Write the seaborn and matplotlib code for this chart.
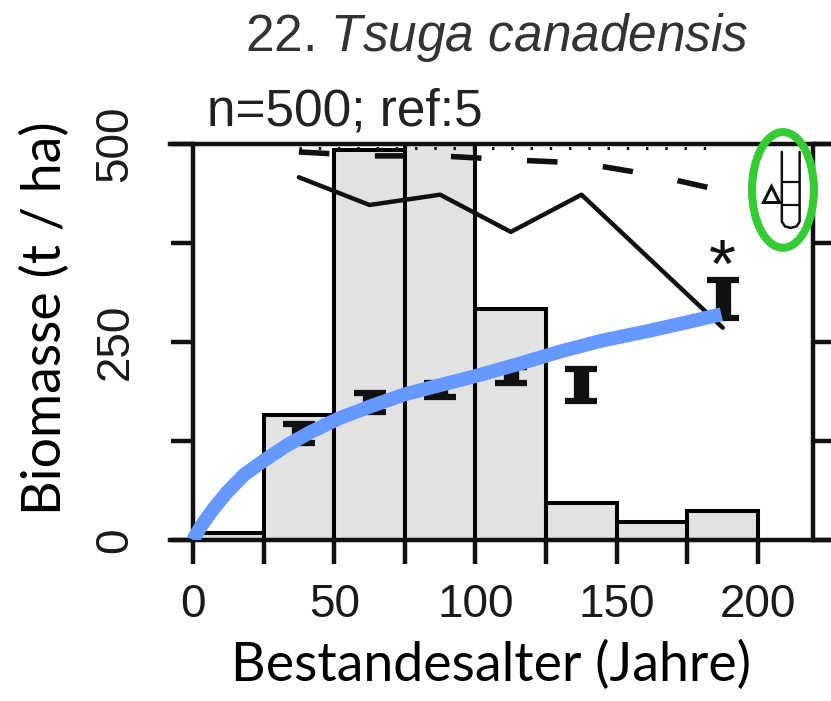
import numpy as np
import matplotlib
matplotlib.use("Agg")
import matplotlib.pyplot as plt
import seaborn as sns
from matplotlib.patches import Ellipse

# Histogram of stand ages (bins of 25 years), heights in t/ha scale
bin_edges = [0, 25, 50, 75, 100, 125, 150, 175, 200]
bin_mids = [12.5, 37.5, 62.5, 87.5, 112.5, 137.5, 162.5, 187.5]
bin_heights = [9, 158, 492, 540, 292, 47, 23, 36]

# Solid and dashed model lines
solid_x = [37.5, 62.5, 87.5, 112.5, 137.5, 187.5]
solid_y = [458, 423, 436, 389, 436, 268]
dash_x = [37.5, 62.5, 87.5, 112.5, 137.5, 162.5, 187.5]
dash_y = [490, 485, 485, 480, 476, 461, 441]
dot_x = [37.5, 185]
dot_y = [495, 495]

# Observed biomass (mean +/- error)
obs_x = [37.5, 62.5, 87.5, 112.5, 137.5, 187.5]
obs_y = [135, 174, 189, 208, 196, 304]
obs_err = [12, 12, 9, 10, 20, 24]

# Fitted curve (blue)
fit_x = [0, 3, 7, 12, 18, 25, 33, 42, 52, 63, 75, 88, 100, 115, 130, 145, 160, 175, 187]
fit_y = [0, 18, 38, 60, 82, 100, 119, 137, 154, 169, 184, 196, 207, 222, 238, 252, 263, 275, 285]

# Symbols inside the green ellipse
tri_x, tri_y = [204.6], [437]
u_x = [208.4, 208.4, 209.5, 211.5, 213.6, 214.7, 214.7]
u_y = [490, 402, 396, 394, 396, 402, 490]
u_bars = [452, 423]

x_ticks = [0, 25, 50, 75, 100, 125, 150, 175, 200]
x_labels = ["0", "", "50", "", "100", "", "150", "", "200"]
y_ticks = [0, 125, 250, 375, 500]
y_labels = ["0", "", "250", "", "500"]

sns.set_style("ticks")
plt.rcParams["font.family"] = ["Liberation Sans", "DejaVu Sans"]
plt.rcParams["mathtext.fontset"] = "custom"
plt.rcParams["mathtext.rm"] = "Liberation Sans"
plt.rcParams["mathtext.it"] = "Liberation Sans:italic"

W, H = 831, 701
fig = plt.figure(figsize=(W / 100, H / 100), dpi=100)
ax = fig.add_axes([170 / W, 1 - 540 / H, (W - 170) / W, (540 - 144) / H])

sns.histplot(x=bin_mids, weights=bin_heights, bins=bin_edges, color="#e2e2e2",
             edgecolor="black", linewidth=2.9, alpha=1, ax=ax, zorder=1)

ax.errorbar(obs_x, obs_y, yerr=obs_err, fmt="none", ecolor="#111111",
            elinewidth=11, capsize=11.5, capthick=4.5, zorder=3)

sns.lineplot(x=dot_x, y=dot_y, color="#111111", linewidth=2.2, ax=ax, zorder=4)
ax.lines[-1].set_linestyle((0, (0.8, 5.5)))
sns.lineplot(x=dash_x, y=dash_y, color="#111111", linewidth=4, ax=ax, zorder=4)
ax.lines[-1].set_linestyle((0, (5.5, 8.2)))
sns.lineplot(x=solid_x, y=solid_y, color="#111111", linewidth=3.2, ax=ax, zorder=4)
sns.lineplot(x=fit_x, y=fit_y, color="#6699ff", linewidth=10, ax=ax, zorder=6,
             solid_capstyle="butt")

ax.text(187.5, 342, "*", ha="center", va="center", fontsize=50, color="#111111", zorder=5)

# green highlight and the symbols inside it
ax.add_patch(Ellipse((208.8, 442), 21.9, 146, fill=False, edgecolor="#33cc33",
                     linewidth=5.8, clip_on=False, zorder=10))
ax.plot(tri_x, tri_y, marker="^", mfc="none", mec="#111111", ms=11, mew=2.2,
        linestyle="none", clip_on=False, zorder=9)
ax.plot(u_x, u_y, color="#111111", linewidth=1.8, clip_on=False, zorder=9)
ax.hlines(u_bars, u_x[0], u_x[-1], color="#111111", linewidth=1.6, zorder=9)

ax.set_xlim(-8.1, 225.8)
ax.set_ylim(0, 500)
ax.set_xlabel("")
ax.set_ylabel("")

for s in ax.spines.values():
    s.set_linewidth(3.2)
    s.set_color("#111111")
    s.set_visible(True)
ax.spines["left"].set_position(("data", 0))
ax.spines["right"].set_position(("data", 219.6))

ax.set_xticks(x_ticks)
ax.set_xticklabels(x_labels, fontsize=33, color="#1a1a1a")
ax.set_yticks(y_ticks)
ax.set_yticklabels(y_labels, fontsize=33, color="#1a1a1a", rotation=90, va="center")
ax.tick_params(axis="x", direction="out", length=17, width=3.2, pad=14, color="#111111")
ax.tick_params(axis="y", direction="out", length=16, width=3.2, pad=24, color="#111111",
               right=True, labelright=False)

fig.text(497 / W, 1 - 38 / H, r"22. $\it{Tsuga\ canadensis}$", ha="center", va="center",
         fontsize=37, color="#333333")
fig.text(207 / W, 1 - 112 / H, "n=500; ref:5", ha="left", va="center",
         fontsize=37, color="#222222")

fig.text(491 / W, 1 - 665 / H, "Bestandesalter (Jahre)", ha="center", va="center",
         fontsize=38.7, family="Lato", color="black")
fig.text(45 / W, 1 - 318 / H, "Biomasse (t / ha)", ha="center", va="center",
         fontsize=38.7, family="Lato", color="black", rotation=90)

fig.savefig("out.png", dpi=100)
